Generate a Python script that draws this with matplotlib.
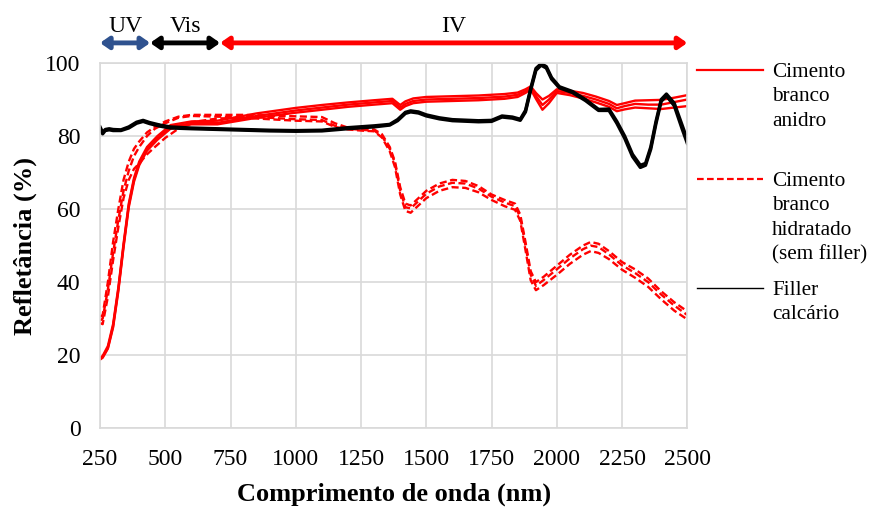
import numpy as np
import matplotlib
matplotlib.use('Agg')
import matplotlib.pyplot as plt
from matplotlib.lines import Line2D
import matplotlib.transforms as mtransforms

plt.rcParams['font.family'] = ['Liberation Serif', 'DejaVu Serif']

# Cimento branco anidro (3 replicates, solid red)
wl_a = [250, 260, 280, 300, 320, 340, 360, 380, 400, 430, 470, 520, 600, 700, 850, 1000,
        1100, 1200, 1300, 1370, 1400, 1420, 1450, 1500, 1600, 1700, 1800, 1850, 1880, 1900,
        1920, 1945, 1970, 2000, 2050, 2100, 2150, 2200, 2230, 2260, 2300, 2350, 2400, 2450, 2500]
anidro_1 = [19, 19.5, 22, 28, 38, 50, 61, 68, 72.5, 76.5, 79.5, 82.5, 83.5, 83.6, 85.5, 87,
            87.8, 88.6, 89.2, 89.6, 87.8, 88.8, 89.6, 90, 90.2, 90.4, 90.8, 91.3, 92.3, 93.3,
            91, 88.5, 90, 92.3, 91.8, 91, 90, 88.8, 87.6, 88.2, 88.8, 88.6, 88.6, 89.3, 90]
anidro_2 = [19.2, 19.8, 22.5, 28.5, 38.5, 50.5, 61.5, 68.5, 73, 77, 80, 83, 84, 84.2, 86.2, 87.7,
            88.5, 89.2, 89.8, 90.2, 88.5, 89.5, 90.3, 90.7, 90.9, 91.1, 91.5, 91.9, 92.8, 93.6,
            91.8, 90, 91, 92.8, 92.4, 91.8, 90.8, 89.6, 88.5, 89, 89.7, 89.8, 89.9, 90.5, 91.2]
anidro_3 = [18.8, 19.3, 21.8, 27.6, 37.5, 49.5, 60.5, 67.5, 72, 76, 79, 82, 83.2, 83.2, 85, 86.4,
            87.2, 88, 88.6, 89, 87.2, 88.2, 89, 89.4, 89.6, 89.8, 90.2, 90.7, 91.8, 92.8,
            90.2, 87.2, 89, 91.8, 91.2, 90.3, 89.2, 88, 86.8, 87.3, 87.8, 87.6, 87.4, 87.8, 88.2]

# Cimento branco hidratado (sem filler) (3 replicates, dashed red)
wl_h = [250, 260, 280, 300, 320, 340, 360, 380, 400, 430, 460, 500, 550, 600, 700, 800, 900,
        1000, 1100, 1150, 1200, 1250, 1300, 1330, 1360, 1380, 1400, 1420, 1440, 1470, 1500,
        1550, 1600, 1650, 1700, 1750, 1800, 1840, 1860, 1880, 1900, 1920, 1950, 2000, 2050,
        2100, 2130, 2160, 2200, 2250, 2300, 2350, 2400, 2450, 2500]
hidratado_1 = [30.5, 31, 40, 51, 60, 68, 73, 76.5, 78.5, 81, 82.5, 84, 85.3, 85.8, 85.8, 85.8, 85.6,
               85.4, 85.2, 83.5, 82.3, 82, 81.8, 80.5, 77, 73, 66, 61.5, 61, 63, 65,
               67, 68, 67.7, 66.3, 64, 62.5, 61.5, 58.5, 51, 43, 40, 41.5, 44.5, 47.5,
               50, 51, 50.5, 48.5, 45.5, 43.5, 41, 37.5, 34.5, 32]
hidratado_2 = [29.5, 30, 38, 48, 57, 65, 70.5, 74.5, 77, 80, 82, 83.5, 85, 85.5, 85.3, 85.2, 85,
               84.6, 84.4, 82.8, 82, 81.7, 81.5, 80, 76.5, 72.5, 65, 60.5, 60.2, 62.2, 64.2,
               66.2, 67.2, 67, 65.6, 63.4, 61.8, 60.8, 57.8, 50, 42, 39, 40.6, 43.5, 46.5,
               49, 50, 49.6, 47.6, 44.6, 42.5, 40, 36.6, 33.6, 31]
hidratado_3 = [28.8, 28.5, 36, 46, 55, 63, 68, 71, 72.5, 75, 77, 79.5, 82, 83.8, 84.8, 85, 84.6,
               84.2, 84, 82.5, 81.8, 81.5, 81.3, 79.6, 75.8, 71.5, 64, 59.5, 59, 61, 63,
               65, 66, 65.8, 64.6, 62.5, 60.8, 59.8, 56.8, 48.8, 40.5, 37.8, 39.2, 42, 45,
               47.5, 48.5, 48, 46.3, 43.4, 41.2, 38.7, 35.3, 32.2, 29.8]

# Filler calcario (replicates, black)
wl_f = [250, 260, 270, 285, 300, 330, 360, 390, 415, 440, 480, 520, 600, 700, 800, 900, 1000,
        1100, 1200, 1300, 1360, 1390, 1420, 1440, 1470, 1500, 1550, 1600, 1700, 1750, 1790,
        1830, 1860, 1880, 1900, 1920, 1940, 1960, 1980, 2010, 2060, 2110, 2160, 2200, 2230,
        2260, 2290, 2320, 2340, 2360, 2380, 2400, 2420, 2450, 2480, 2500]
filler_1 = [82.5, 81, 81.8, 82, 81.8, 81.7, 82.5, 83.8, 84.3, 83.7, 83, 82.5, 82.2, 82, 81.8, 81.6, 81.5,
            81.6, 82.3, 82.8, 83.2, 84.5, 86.5, 86.9, 86.6, 85.8, 85, 84.5, 84.2, 84.3, 85.5,
            85.2, 84.6, 87, 93, 98.5, 99.8, 99, 96, 93.5, 92.2, 90, 87.3, 87.4, 84,
            80, 75, 72, 72.5, 77, 84, 90, 91.5, 89, 83, 79]
filler_2 = [82, 80.6, 81.5, 81.7, 81.5, 81.5, 82.2, 83.5, 84, 83.4, 82.7, 82.2, 82, 81.8, 81.6, 81.4, 81.3,
            81.4, 82, 82.5, 83, 84.2, 86.2, 86.6, 86.3, 85.5, 84.7, 84.2, 83.9, 84, 85.2,
            84.9, 84.3, 86.6, 92.6, 98, 99.4, 98.6, 95.6, 93.2, 91.9, 89.7, 87, 87, 83.5,
            79.4, 74.4, 71.4, 72, 76.4, 83.4, 89.5, 91, 88.3, 82, 78]

x_ticks = [250, 500, 750, 1000, 1250, 1500, 1750, 2000, 2250, 2500]
y_ticks = [0, 20, 40, 60, 80, 100]

# regions on top: (label, start, end, colour, edge)
regions = [('UV', 250, 442, '#4472C4', '#2F528F'),
           ('Vis', 442, 710, 'black', 'black'),
           ('IV', 710, 2500, '#FF0000', '#FF0000')]

fig = plt.figure(figsize=(8.7, 5.08), dpi=100)
ax = fig.add_axes([0.115, 0.157, 0.675, 0.719])

for ys in [anidro_1, anidro_2, anidro_3]:
    ax.plot(wl_a, ys, color='#FF0000', lw=1.7, solid_capstyle='round')
for ys in [hidratado_1, hidratado_2, hidratado_3]:
    ax.plot(wl_h, ys, color='#FF0000', lw=1.7, linestyle=(0, (3, 1.5)))
for ys in [filler_1, filler_2]:
    ax.plot(wl_f, ys, color='black', lw=2.4)

ax.set_xlim(250, 2500)
ax.set_ylim(0, 100)
ax.set_xticks(x_ticks)
ax.set_yticks(y_ticks)
ax.grid(True, color='#d9d9d9', lw=1.2)
ax.set_axisbelow(True)
for s in ax.spines.values():
    s.set_color('#d9d9d9')
    s.set_linewidth(1.2)
ax.tick_params(length=0, labelsize=17)
ax.tick_params(axis='x', pad=15)
ax.tick_params(axis='y', pad=14)
ax.set_xlabel('Comprimento de onda (nm)', fontsize=19, fontweight='bold', labelpad=9)
ax.set_ylabel('Refletância (%)', fontsize=19, fontweight='bold', labelpad=6)

# region arrows above the plot
trans = mtransforms.blended_transform_factory(ax.transData, ax.transAxes)
for label, x0, x1, col, edge in regions:
    ax.annotate('', xy=(x0, 1.055), xytext=(x1, 1.055), xycoords=trans, textcoords=trans,
                arrowprops=dict(arrowstyle='<|-|>,head_length=0.5,head_width=0.35',
                                color=col, ec=edge, lw=3.5, shrinkA=0, shrinkB=0),
                annotation_clip=False)
    ax.text((x0 + x1) / 2, 1.072, label, transform=trans, ha='center', va='bottom', fontsize=17)

# legend drawn by hand, handle next to first text line
legend_items = [('Cimento\nbranco\nanidro', '-', 1.6, '#FF0000', 70),
                ('Cimento\nbranco\nhidratado\n(sem filler)', (0, (3, 1.5)), 1.6, '#FF0000', 179),
                ('Filler\ncalcário', '-', 1.0, 'black', 288)]
W, H = 870, 508
for text, ls, lw, col, py in legend_items:
    fig.add_artist(Line2D([697 / W, 763 / W], [1 - py / H, 1 - py / H], color=col, lw=lw, linestyle=ls))
    fig.text(772 / W, 1 - (py - 7) / H, text, ha='left', va='top', fontsize=15.3, linespacing=1.38)

fig.savefig('out.png', dpi=100)
